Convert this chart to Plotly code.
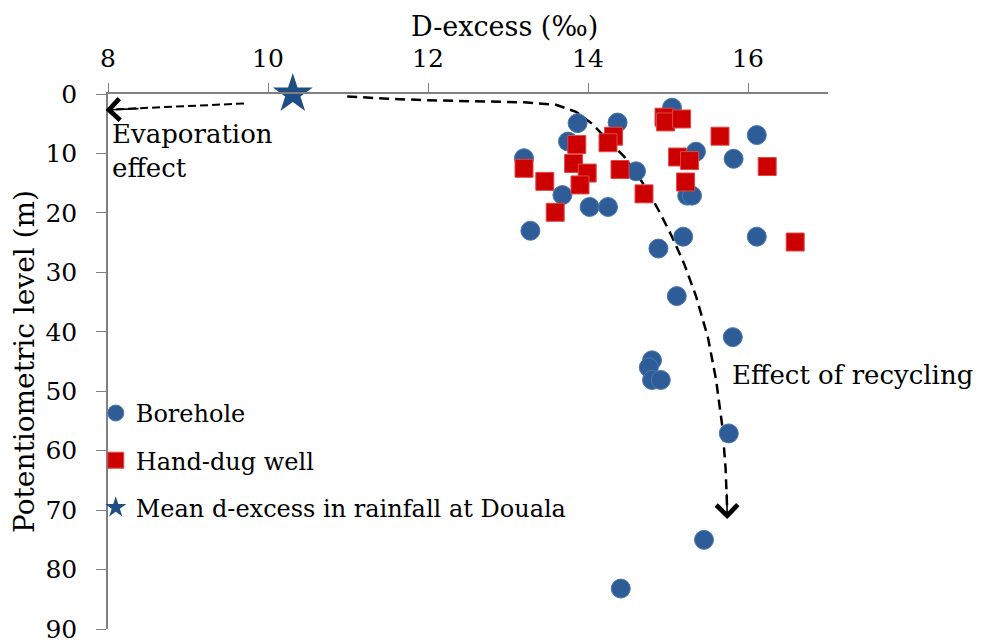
import plotly.graph_objects as go

# Borehole samples
bore_x = [13.87, 14.37, 15.05, 13.75, 16.11, 13.20, 15.35, 15.82, 14.60, 13.68, 15.24, 15.30,
          14.02, 14.25, 13.28, 15.19, 16.11, 14.88, 15.11, 15.81, 14.80, 14.76, 14.80, 14.91,
          15.76, 15.45, 14.41]
bore_y = [4.9, 4.8, 2.3, 8.0, 6.9, 10.8, 9.7, 10.9, 13.0, 17.0, 17.1, 17.1,
          19.0, 19.0, 23.0, 24.0, 24.0, 26.0, 34.0, 40.9, 44.8, 46.0, 48.1, 48.1,
          57.1, 75.0, 83.2]

# Hand-dug well samples
well_x = [14.95, 14.97, 15.17, 15.65, 14.32, 14.25, 13.86, 15.12, 15.27, 13.82, 13.20, 16.24,
          14.40, 13.99, 13.46, 13.90, 15.22, 14.70, 13.59, 16.59]
well_y = [3.9, 4.7, 4.2, 7.1, 7.1, 8.2, 8.5, 10.6, 11.2, 11.7, 12.5, 12.2,
          12.7, 13.3, 14.7, 15.3, 14.8, 16.8, 19.9, 24.9]

# Mean d-excess in rainfall at Douala
rain_x = [10.31]
rain_y = [0.0]

# Schematic "effect of recycling" path
curve_x = [10.99, 11.5, 12.0, 12.4, 12.8, 13.2, 13.6, 13.85, 14.05, 14.25, 14.45, 14.6,
           14.75, 14.9, 15.05, 15.2, 15.35, 15.5, 15.6, 15.68, 15.72, 15.74]
curve_y = [0.4, 0.8, 1.05, 1.2, 1.3, 1.4, 1.8, 3.0, 5.0, 7.8, 10.5, 13.3,
           16.3, 20.0, 24.0, 28.5, 34.0, 41.0, 48.0, 56.0, 63.0, 70.0]

# Schematic "evaporation effect" path
evap_x = [9.70, 8.05]
evap_y = [1.6, 2.6]

x_ticks = [8, 10, 12, 14, 16]
y_ticks = [0, 10, 20, 30, 40, 50, 60, 70, 80, 90]

FONT = "DejaVu Serif, Liberation Serif, serif"
fig = go.Figure()

fig.add_trace(go.Scatter(x=curve_x, y=curve_y, mode="lines", showlegend=False,
                         line=dict(color="black", width=2.5, dash="10px,6px"),
                         hoverinfo="skip"))
fig.add_trace(go.Scatter(x=evap_x, y=evap_y, mode="lines", showlegend=False,
                         line=dict(color="black", width=2, dash="8px,4px"),
                         hoverinfo="skip"))

fig.add_trace(go.Scatter(x=bore_x, y=bore_y, mode="markers", name="Borehole",
                         legendgroup="a",
                         marker=dict(symbol="circle", size=19, color="#2E5C97",
                                     line=dict(color="#4A78B0", width=1))))
fig.add_trace(go.Scatter(x=well_x, y=well_y, mode="markers", name="Hand-dug well",
                         legendgroup="b",
                         marker=dict(symbol="square", size=18, color="#CC0000",
                                     line=dict(color="#E04848", width=1))))
fig.add_trace(go.Scatter(x=rain_x, y=rain_y, mode="markers",
                         name="Mean d-excess in rainfall at Douala", legendgroup="c",
                         cliponaxis=False,
                         marker=dict(symbol="star", size=30, color="#1F4E85",
                                     line=dict(color="#1F4E85", width=0))))

# arrow heads
fig.add_annotation(x=curve_x[-1], y=71.5, ax=curve_x[-1] - 0.005, ay=67.0,
                   xref="x", yref="y", axref="x", ayref="y", text="",
                   showarrow=True, arrowhead=4, arrowsize=2.6, arrowwidth=1.6,
                   arrowcolor="black")
fig.add_annotation(x=7.97, y=2.7, ax=8.4, ay=2.45,
                   xref="x", yref="y", axref="x", ayref="y", text="",
                   showarrow=True, arrowhead=4, arrowsize=2.6, arrowwidth=1.6,
                   arrowcolor="black")

fig.add_annotation(x=8.03, y=9.6, xref="x", yref="y", text="Evaporation<br>effect",
                   showarrow=False, xanchor="left", yanchor="middle", align="left",
                   font=dict(family=FONT, size=26, color="black"))
fig.add_annotation(x=15.78, y=47.3, xref="x", yref="y", text="Effect of recycling",
                   showarrow=False, xanchor="left", yanchor="middle",
                   font=dict(family=FONT, size=26, color="black"))
fig.add_annotation(x=0.55, y=1, xref="paper", yref="paper", yshift=68,
                   text="D-excess (‰)", showarrow=False, xanchor="center",
                   yanchor="middle",
                   font=dict(family=FONT, size=27, color="black"))

fig.update_xaxes(side="top", range=[8, 17], tickvals=x_ticks, ticks="outside",
                 ticklen=9, tickcolor="#808080", showline=True, linecolor="#808080",
                 linewidth=1.5, showgrid=False, zeroline=False, ticklabelstandoff=6,
                 automargin=False, ticklabeloverflow="allow",
                 tickfont=dict(family=FONT, size=25, color="black"))
fig.update_yaxes(range=[90, 0], tickvals=y_ticks, ticks="outside", ticklen=10,
                 tickcolor="#808080", showline=True, linecolor="#808080", linewidth=1.5,
                 showgrid=False, zeroline=False, ticklabelstandoff=14,
                 automargin=False, ticklabeloverflow="allow",
                 tickfont=dict(family=FONT, size=25, color="black"),
                 title=dict(text="Potentiometric level (m)", standoff=6,
                            font=dict(family=FONT, size=28, color="black")))

fig.update_layout(
    width=974, height=634,
    margin=dict(l=99.5, r=154.3, t=86.3, b=13, autoexpand=False),
    plot_bgcolor="white", paper_bgcolor="white",
    showlegend=True,
    legend=dict(x=-0.017, y=0.445, xanchor="left", yanchor="top",
                traceorder="grouped", tracegroupgap=13, itemwidth=30,
                bgcolor="rgba(0,0,0,0)",
                font=dict(family=FONT, size=24, color="black")),
)

fig.write_html("out.html")
